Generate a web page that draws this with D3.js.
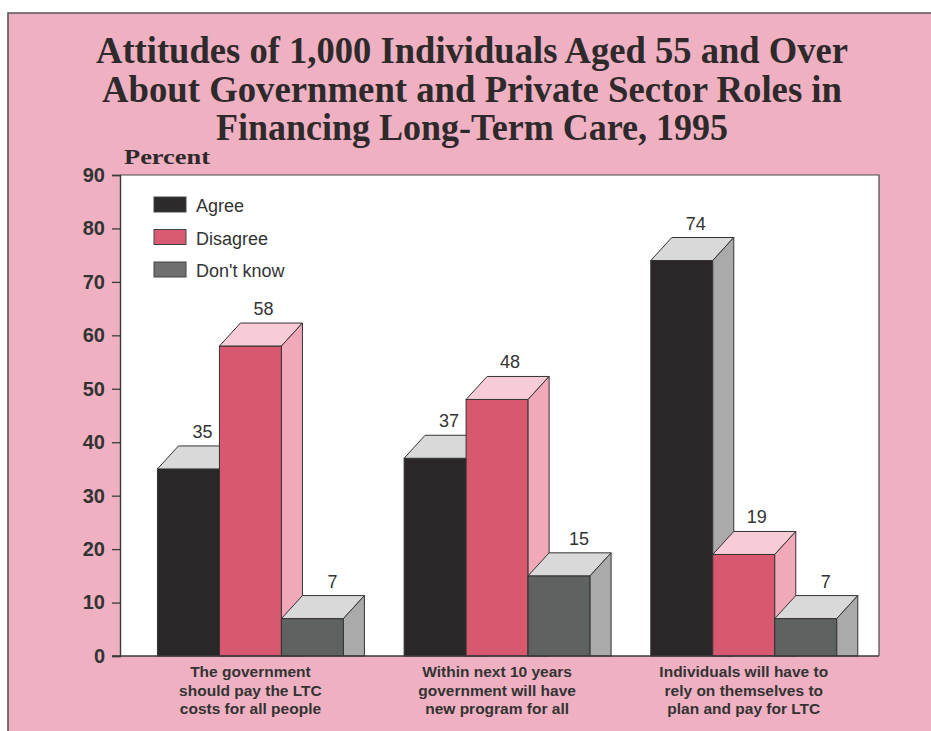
<!DOCTYPE html>
<html>
<head>
<meta charset="utf-8">
<script src="https://cdn.jsdelivr.net/npm/d3@7"></script>
<style>
  html, body { margin: 0; padding: 0; background: #ffffff; }
  svg { display: block; }
</style>
</head>
<body>
<svg id="chart" width="931" height="731"></svg>
<script>
// Survey results: share of respondents by answer, for each statement
const categories = ["gov-pay", "new-program", "self-plan"];
const categoryLines = [
  ["The government", "should pay the LTC", "costs for all people"],
  ["Within next 10 years", "government will have", "new program for all"],
  ["Individuals will have to", "rely on themselves to", "plan and pay for LTC"]
];
const series = ["Agree", "Disagree", "Don't know"];
const agree = [35, 37, 74];
const disagree = [58, 48, 19];
const dontKnow = [7, 15, 7];
const yTicks = [0, 10, 20, 30, 40, 50, 60, 70, 80, 90];
const titleLines = [
  "Attitudes of 1,000 Individuals Aged 55 and Over",
  "About Government and Private Sector Roles in",
  "Financing Long-Term Care, 1995"
];
const yAxisTitle = "Percent";

const valuesBySeries = { "Agree": agree, "Disagree": disagree, "Don't know": dontKnow };

// face colours for the extruded bars: front, top, side
const faceColors = {
  "Agree":      { front: "#2b2728", top: "#d9d9d9", side: "#aaaaaa", swatch: "#2d2a2b" },
  "Disagree":   { front: "#d8586f", top: "#f7ccd6", side: "#f1a8b9", swatch: "#d95b73" },
  "Don't know": { front: "#5e6260", top: "#d9d9d9", side: "#a9aaa9", swatch: "#6f6f6f" }
};
const labelShift = { "Agree": 14, "Disagree": 13, "Don't know": 20 };

const svg = d3.select("#chart");
const W = 931, H = 731;
const ink = "#333333";
const pink = "#efb1c2";

// page frame
svg.append("rect").attr("x", 8).attr("y", 13).attr("width", W - 8).attr("height", H - 13)
  .attr("fill", pink);
svg.append("path").attr("d", `M${W},13 H8 V${H}`)
  .attr("fill", "none").attr("stroke", "#5a5456").attr("stroke-width", 1.6);

// title
const titleWidths = [752, 740, 512];
svg.append("g").selectAll("text").data(titleLines).join("text")
  .attr("x", 472).attr("y", (d, i) => 63 + i * 38.5)
  .attr("text-anchor", "middle")
  .attr("font-family", "'Liberation Serif', 'DejaVu Serif', serif")
  .attr("font-weight", "bold").attr("font-size", 37)
  .attr("fill", "#2e2a2b")
  .attr("textLength", (d, i) => titleWidths[i])
  .attr("lengthAdjust", "spacingAndGlyphs")
  .text(d => d);

// plot geometry
const plot = { left: 120, right: 879, top: 175, bottom: 656 };
const depth = { dx: 21, dy: 23 };

const y = d3.scaleLinear().domain([0, 90]).range([plot.bottom, plot.top]);
const x0 = d3.scaleBand().domain(categories).range([plot.left, plot.right])
  .paddingInner(0.246).paddingOuter(0.1615).align(0.47);
const x1 = d3.scaleBand().domain(series).range([0, x0.bandwidth()]).padding(0);

// white plotting area
svg.append("rect")
  .attr("x", plot.left).attr("y", plot.top)
  .attr("width", plot.right - plot.left).attr("height", plot.bottom - plot.top)
  .attr("fill", "#ffffff");
svg.append("path")
  .attr("d", `M${plot.left},${plot.top} H${plot.right} V${plot.bottom}`)
  .attr("fill", "none").attr("stroke", "#4a4a4a").attr("stroke-width", 1.2);

// y axis title
svg.append("text").attr("x", 124).attr("y", 164)
  .attr("font-family", "'Liberation Serif', 'DejaVu Serif', serif")
  .attr("font-weight", "bold").attr("font-size", 21).attr("fill", "#2e2a2b")
  .attr("textLength", 86).attr("lengthAdjust", "spacingAndGlyphs")
  .text(yAxisTitle);

// y axis
const yAxis = d3.axisLeft(y).tickValues(yTicks).tickSize(8).tickPadding(7).tickFormat(d3.format("d"));
const gy = svg.append("g").attr("transform", `translate(${plot.left},0)`).call(yAxis);
gy.select(".domain").attr("stroke", "#3a3a3a").attr("stroke-width", 1.4);
gy.selectAll(".tick line").attr("stroke", "#3a3a3a").attr("stroke-width", 1.3);
gy.selectAll(".tick text")
  .attr("font-family", "'Liberation Sans', Arial, sans-serif")
  .attr("font-weight", "bold").attr("font-size", 20).attr("fill", ink);

// bars
const bars = svg.append("g");
categories.forEach((cat, ci) => {
  series.forEach(s => {
    const v = valuesBySeries[s][ci];
    const c = faceColors[s];
    const bx = x0(cat) + x1(s);
    const bw = x1.bandwidth();
    const ty = y(v);
    const base = y(0);
    const g = bars.append("g");
    g.append("rect").attr("x", bx).attr("y", ty).attr("width", bw).attr("height", base - ty)
      .attr("fill", c.front).attr("stroke", ink).attr("stroke-width", 1);
    g.append("path")
      .attr("d", `M${bx},${ty} L${bx + depth.dx},${ty - depth.dy} L${bx + bw + depth.dx},${ty - depth.dy} L${bx + bw},${ty} Z`)
      .attr("fill", c.top).attr("stroke", ink).attr("stroke-width", 1).attr("stroke-linejoin", "round");
    g.append("path")
      .attr("d", `M${bx + bw},${ty} L${bx + bw + depth.dx},${ty - depth.dy} L${bx + bw + depth.dx},${base} L${bx + bw},${base} Z`)
      .attr("fill", c.side).attr("stroke", ink).attr("stroke-width", 1).attr("stroke-linejoin", "round");
    g.append("text")
      .attr("x", bx + bw / 2 + labelShift[s])
      .attr("y", ty - depth.dy - 8)
      .attr("text-anchor", "middle")
      .attr("font-family", "'Liberation Sans', Arial, sans-serif")
      .attr("font-size", 18).attr("fill", ink)
      .text(v);
  });
});

// baseline drawn over bar bottoms
svg.append("line").attr("x1", plot.left - 8).attr("x2", plot.right)
  .attr("y1", plot.bottom).attr("y2", plot.bottom)
  .attr("stroke", "#3a3a3a").attr("stroke-width", 1.4);

// category labels
const cg = svg.append("g");
categories.forEach((cat, ci) => {
  cg.append("g").selectAll("text").data(categoryLines[ci]).join("text")
    .attr("x", x0(cat) + x0.bandwidth() / 2)
    .attr("y", (d, i) => 677 + i * 18.5)
    .attr("text-anchor", "middle")
    .attr("font-family", "'Liberation Sans', Arial, sans-serif")
    .attr("font-weight", "bold").attr("font-size", 15.5).attr("fill", ink)
    .text(d => d);
});

// legend
const legend = svg.append("g").attr("transform", "translate(154,197)");
series.forEach((s, i) => {
  legend.append("rect").attr("x", 0).attr("y", i * 32.5).attr("width", 32).attr("height", 15)
    .attr("fill", faceColors[s].swatch).attr("stroke", "#444").attr("stroke-width", 1);
  legend.append("text").attr("x", 42).attr("y", i * 32.5 + 15)
    .attr("font-family", "'Liberation Sans', Arial, sans-serif")
    .attr("font-size", 18).attr("fill", ink)
    .text(s);
});
</script>
</body>
</html>
